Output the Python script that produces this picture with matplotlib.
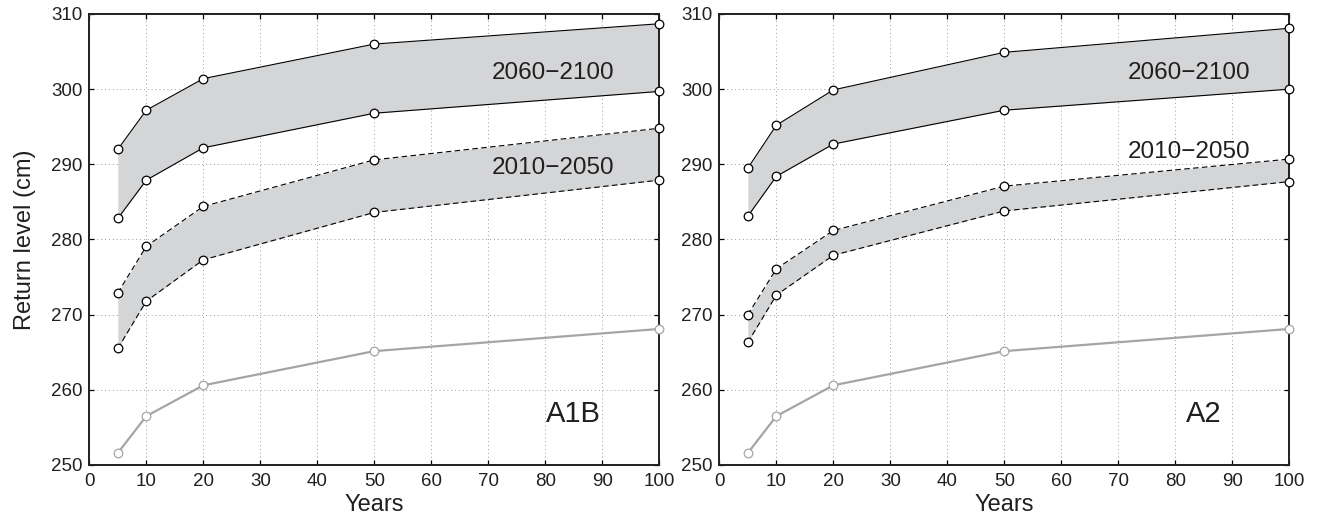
import numpy as np
import matplotlib.pyplot as plt

plt.rcParams['font.family'] = ['Liberation Sans', 'DejaVu Sans']

# return periods (years)
years = [5, 10, 20, 50, 100]

# A1B scenario
a1b_late_hi = [292.0, 297.2, 301.4, 306.0, 308.7]
a1b_late_lo = [282.8, 287.9, 292.2, 296.8, 299.7]
a1b_early_hi = [272.9, 279.1, 284.4, 290.6, 294.8]
a1b_early_lo = [265.5, 271.8, 277.3, 283.6, 287.9]

# A2 scenario
a2_late_hi = [289.5, 295.2, 299.9, 304.9, 308.1]
a2_late_lo = [283.1, 288.4, 292.7, 297.2, 300.0]
a2_early_hi = [270.0, 276.1, 281.2, 287.1, 290.7]
a2_early_lo = [266.3, 272.6, 277.9, 283.8, 287.7]

# present-day reference
baseline = [251.6, 256.5, 260.6, 265.15, 268.1]

fill_col = '#d4d5d7'
grey_col = '#a5a5a5'
txt_col = '#231f20'

panels = [
    ('A1B', a1b_late_hi, a1b_late_lo, a1b_early_hi, a1b_early_lo, 289.5),
    ('A2', a2_late_hi, a2_late_lo, a2_early_hi, a2_early_lo, 291.6),
]

fig = plt.figure(figsize=(13.25, 5.24), dpi=100)
ax_pos = [[0.0674, 0.1126, 0.4302, 0.8607],
          [0.5429, 0.1126, 0.4302, 0.8607]]

for i, (name, lhi, llo, ehi, elo, ey) in enumerate(panels):
    ax = fig.add_axes(ax_pos[i])

    ax.fill_between(years, llo, lhi, color=fill_col, lw=0, zorder=1)
    ax.fill_between(years, elo, ehi, color=fill_col, lw=0, zorder=1)

    mk = dict(marker='o', ms=6.2, mfc='white', mew=0.9, clip_on=False, zorder=4)
    ax.plot(years, lhi, color='k', lw=0.8, mec='k', **mk)
    ax.plot(years, llo, color='k', lw=0.8, mec='k', **mk)
    ax.plot(years, ehi, color='k', lw=0.8, ls=(0, (5, 3)), mec='k', **mk)
    ax.plot(years, elo, color='k', lw=0.8, ls=(0, (5, 3)), mec='k', **mk)
    ax.plot(years, baseline, color=grey_col, lw=1.6, mec=grey_col, **mk)

    ax.text(81.4 if i == 0 else 82.4, 302.2, '2060\u22122100', fontsize=17.5,
            ha='center', va='center', color=txt_col, zorder=5)
    ax.text(81.4 if i == 0 else 82.4, ey, '2010\u22122050', fontsize=17.5,
            ha='center', va='center', color=txt_col, zorder=5)
    ax.text(85.0, 256.8, name, fontsize=21, ha='center', va='center', color=txt_col)

    ax.set_xlim(0, 100)
    ax.set_ylim(250, 310)
    ax.set_xticks(np.arange(0, 101, 10))
    ax.set_yticks(np.arange(250, 311, 10))
    ax.grid(True, ls=(0, (1, 3)), color='#9d9d9d', lw=0.7)
    ax.set_axisbelow(True)

    ax.tick_params(direction='in', top=True, right=True, length=3.6, width=0.9,
                   labelsize=13.5, labelcolor=txt_col)
    ax.tick_params(axis='x', pad=6)
    ax.tick_params(axis='y', pad=5)
    for s in ax.spines.values():
        s.set_linewidth(1.4)
        s.set_color('#231f20')

    ax.set_xlabel('Years', fontsize=17, color=txt_col, labelpad=3)
    if i == 0:
        ax.set_ylabel('Return level (cm)', fontsize=17, color=txt_col, labelpad=11)

fig.savefig('out.png', dpi=100)
